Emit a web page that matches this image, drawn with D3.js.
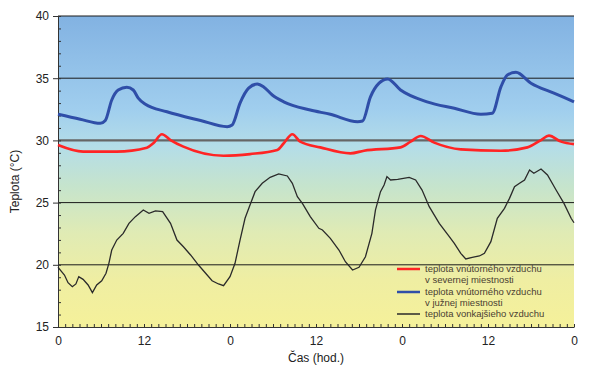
<!DOCTYPE html>
<html><head><meta charset="utf-8">
<script src="https://cdn.jsdelivr.net/npm/d3@7"></script>
<style>body{margin:0;background:#fff}svg{display:block}</style>
</head><body>
<svg id="c" width="600" height="374"></svg>
<script>
// ---- data (hours from start, °C) ----
const xTickLabels = ["0","12","0","12","0","12","0"];
const xTickHours = [0,12,24,36,48,60,72];
const yTicks = [15,20,25,30,35,40];

const southHours = [0,3.1,5.9,6.6,7.5,8.4,9.6,10.5,11.2,12.2,15.2,19.9,23.6,24.3,25.4,26.6,27.8,28.7,29.9,31.5,35.2,38.0,41.8,42.5,43.6,44.8,46.0,47.8,51.5,55.3,59.0,60.6,61.8,62.7,63.9,66.0,69.2,72.0];
const southTemp  = [32.1,31.7,31.37,31.6,33.25,34.05,34.27,34.05,33.4,32.9,32.3,31.6,31.1,31.24,33.0,34.2,34.53,34.3,33.65,33.1,32.44,32.1,31.5,31.56,33.5,34.6,34.94,34.05,33.1,32.58,32.1,32.18,34.3,35.26,35.47,34.6,33.8,33.1];

const northHours = [0,3.5,8.2,12.4,13.3,14.5,15.7,17.5,23.1,26.8,30.6,31.5,32.7,33.8,36.6,40.8,42.7,47.8,49.2,50.6,52.5,56.2,61.8,65.5,67.4,68.5,70.2,72.0];
const northTemp  = [29.63,29.1,29.1,29.41,29.77,30.5,30.03,29.5,28.77,28.9,29.23,29.77,30.5,29.9,29.44,28.96,29.17,29.44,29.9,30.35,29.82,29.28,29.17,29.44,30.03,30.38,29.9,29.7];

const outHours = [0,0.5,0.9,1.4,2.0,2.5,2.9,3.5,4.2,4.8,5.4,6.1,6.7,7.1,7.5,8.2,9.1,9.9,10.8,11.9,12.7,13.6,14.6,15.7,16.6,17.5,18.5,19.6,20.6,21.5,22.4,23.1,24.0,24.7,25.4,26.1,26.7,27.5,28.5,29.6,30.8,32.0,32.7,33.4,34.1,35.2,36.4,36.9,38.0,39.2,40.1,41.1,42.0,42.9,43.8,44.3,45.0,45.5,45.9,46.4,47.4,49.0,49.9,50.8,51.8,53.2,54.6,55.3,56.2,56.9,57.8,58.8,59.5,60.4,61.3,62.3,63.0,63.7,64.4,65.1,65.8,66.4,67.4,68.3,69.5,70.6,71.6,72.0];
const outTemp  = [19.8,19.45,19.18,18.56,18.24,18.46,19.05,18.83,18.38,17.76,18.38,18.72,19.32,20.12,21.19,21.99,22.53,23.33,23.87,24.41,24.14,24.33,24.27,23.33,21.99,21.45,20.79,19.98,19.32,18.72,18.46,18.32,19.05,20.12,21.99,23.74,24.67,25.88,26.55,27.03,27.3,27.14,26.55,25.47,24.94,23.87,22.93,22.8,22.13,21.19,20.25,19.58,19.8,20.65,22.53,24.41,25.88,26.42,27.09,26.82,26.87,27.03,26.82,26.01,24.67,23.33,22.26,21.73,20.92,20.47,20.6,20.71,20.92,21.86,23.74,24.54,25.34,26.28,26.55,26.82,27.62,27.36,27.7,27.22,26.01,24.94,23.74,23.38];

const legendLabels = [["teplota vnútorného vzduchu","v severnej miestnosti"],["teplota vnútorného vzduchu","v južnej miestnosti"],["teplota vonkajšieho vzduchu"]];

// ---- chart ----
const svg = d3.select("#c");
const L=58, R=574, T=16, B=327;
const x = d3.scaleLinear().domain([0,72]).range([L,R]);
const y = d3.scaleLinear().domain([15,40]).range([B,T]);

const defs = svg.append("defs");
const g = defs.append("linearGradient").attr("id","bg").attr("x1",0).attr("y1",0).attr("x2",0).attr("y2",1);
[[0,"#82b2e2"],[0.3,"#a0ceee"],[0.42,"#b4dde8"],[0.55,"#c6e4cc"],[0.7,"#e0ebb4"],[0.85,"#efeea2"],[1,"#f5f19a"]]
  .forEach(s=>g.append("stop").attr("offset",s[0]).attr("stop-color",s[1]));
svg.append("rect").attr("x",L).attr("y",T).attr("width",R-L).attr("height",B-T).attr("fill","url(#bg)");

// gridlines
[20,25,35,40].forEach(v=>svg.append("line").attr("x1",L).attr("x2",R).attr("y1",y(v)).attr("y2",y(v)).attr("stroke","#1a1a1a").attr("stroke-width",1));
svg.append("line").attr("x1",L).attr("x2",R).attr("y1",y(30)).attr("y2",y(30)).attr("stroke","#666").attr("stroke-width",2.2);

// axes
const yAx = svg.append("g").attr("transform",`translate(${L},0)`)
  .call(d3.axisLeft(y).tickValues(yTicks).tickSize(5).tickPadding(4));
yAx.select(".domain").attr("stroke","#333");
yAx.selectAll(".tick line").attr("stroke","#333");
yAx.selectAll("text").attr("font-family","Liberation Sans, Arial, sans-serif").attr("font-size",12).attr("fill","#222");
const yMin = svg.append("g").attr("transform",`translate(${L},0)`)
  .call(d3.axisRight(y).ticks(25).tickSize(3).tickFormat(""));
yMin.select(".domain").remove();
yMin.selectAll(".tick line").attr("stroke","#333");

const xAx = svg.append("g").attr("transform",`translate(0,${B})`)
  .call(d3.axisBottom(x).tickValues(xTickHours).tickSize(0).tickPadding(9).tickFormat((d,i)=>xTickLabels[i]));
xAx.select(".domain").attr("stroke","#333");
xAx.selectAll("text").attr("font-family","Liberation Sans, Arial, sans-serif").attr("font-size",12).attr("fill","#222");
const xMin = svg.append("g").attr("transform",`translate(0,${B})`)
  .call(d3.axisTop(x).tickValues(d3.range(0,73,1)).tickSize(3).tickFormat(""));
xMin.select(".domain").remove();
xMin.selectAll(".tick line").attr("stroke","#333");

svg.append("text").attr("transform",`translate(19,${(T+B)/2+10}) rotate(-90)`).attr("text-anchor","middle")
  .attr("font-family","Liberation Sans, Arial, sans-serif").attr("font-size",12).attr("fill","#222").text("Teplota (°C)");
svg.append("text").attr("x",(L+R)/2).attr("y",362).attr("text-anchor","middle")
  .attr("font-family","Liberation Sans, Arial, sans-serif").attr("font-size",12).attr("fill","#222").text("Čas (hod.)");

// lines
const mk = (hs,vs)=>hs.map((h,i)=>[h,vs[i]]);
const smooth = d3.line().x(d=>x(d[0])).y(d=>y(d[1])).curve(d3.curveMonotoneX);
const rough = d3.line().x(d=>x(d[0])).y(d=>y(d[1]));
svg.append("path").attr("d",rough(mk(outHours,outTemp))).attr("fill","none").attr("stroke","#2a2a2a").attr("stroke-width",1.3);
svg.append("path").attr("d",smooth(mk(northHours,northTemp))).attr("fill","none").attr("stroke","#ff2424").attr("stroke-width",2.6);
svg.append("path").attr("d",smooth(mk(southHours,southTemp))).attr("fill","none").attr("stroke","#2f4ea8").attr("stroke-width",3);

// legend
const legColors = ["#ff2424","#2f4ea8","#2a2a2a"];
const legWidths = [2.5,2.5,1.5];
const legY = [269,292,314];
legendLabels.forEach((lines,i)=>{
  svg.append("line").attr("x1",397).attr("x2",420).attr("y1",legY[i]).attr("y2",legY[i])
    .attr("stroke",legColors[i]).attr("stroke-width",legWidths[i]);
  lines.forEach((t,j)=>svg.append("text").attr("x",425).attr("y",legY[i]+j*11+3.4)
    .attr("font-family","Liberation Sans, Arial, sans-serif").attr("font-size",9.5).attr("fill","#4a3e32").text(t));
});
</script>
</body></html>
